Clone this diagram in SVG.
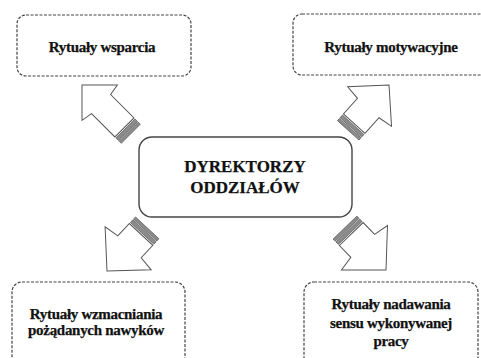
<svg xmlns="http://www.w3.org/2000/svg" width="481" height="358" viewBox="0 0 481 358">
  <style>
    .bg { fill: #ffffff; }
    .ritual { fill: #ffffff; stroke: #444444; stroke-width: 1.2; stroke-dasharray: 3 1.5; }
    .core { fill: #ffffff; stroke: #444444; stroke-width: 1.4; }
    .label { font-family: 'Liberation Serif', 'Times New Roman', serif; font-weight: 700; fill: #111111; stroke: #111111; stroke-width: 0.25; text-anchor: middle; }
    .small { font-size: 15px; letter-spacing: -0.3px; }
    .big { font-size: 17px; }
    .arrow-body { fill: #ffffff; stroke: #555555; stroke-width: 1; stroke-linejoin: miter; }
    .stripe { fill: #8c8c8c; stroke: #5a5a5a; stroke-width: 0.7; }
  </style>

  <rect class="bg" x="0" y="0" width="481" height="358"/>

  <!-- connectors: striped block arrows pointing from the centre to each ritual -->
  <g id="connectors">
    <g id="arrow-tl" transform="translate(82,85) rotate(225)">
      <polygon class="arrow-body" points="0,0 -25,25 -27,13.5 -60,13.5 -60,-13.5 -27,-13.5 -25,-25"/>
      <rect class="stripe" x="-65" y="-13.5" width="3.5" height="27"/>
      <rect class="stripe" x="-69" y="-13.5" width="3" height="27"/>
    </g>
    <g id="arrow-tr" transform="translate(389,85) rotate(-48)">
      <polygon class="arrow-body" points="0,0 -29,29.5 -31,14.5 -52,14.5 -52,-14.5 -31,-14.5 -29,-29.5"/>
      <rect class="stripe" x="-57" y="-14.5" width="3.5" height="29"/>
      <rect class="stripe" x="-61" y="-14.5" width="3" height="29"/>
    </g>
    <g id="arrow-bl" transform="translate(107,271) rotate(133)">
      <polygon class="arrow-body" points="0,0 -31,31.5 -33,16 -50,16 -50,-16 -33,-16 -31,-31.5"/>
      <rect class="stripe" x="-55" y="-16" width="3.5" height="32"/>
      <rect class="stripe" x="-59" y="-16" width="3" height="32"/>
    </g>
    <g id="arrow-br" transform="translate(386,270) rotate(46)">
      <polygon class="arrow-body" points="0,0 -31,32 -33.5,16.5 -50,16.5 -50,-16.5 -33.5,-16.5 -31,-32"/>
      <rect class="stripe" x="-55" y="-16.5" width="3.5" height="33"/>
      <rect class="stripe" x="-59" y="-16.5" width="3" height="33"/>
    </g>
  </g>

  <!-- central node -->
  <g id="node-dyrektorzy">
    <rect class="core" x="139" y="137" width="213" height="80" rx="13" ry="13"/>
    <text class="label big" x="245" y="172">DYREKTORZY</text>
    <text class="label big" x="245" y="193">ODDZIAŁÓW</text>
  </g>

  <!-- ritual nodes -->
  <g id="node-wsparcia">
    <rect class="ritual" x="17" y="15" width="174" height="61" rx="9" ry="9"/>
    <text class="label small" x="102" y="52">Rytuały wsparcia</text>
  </g>

  <g id="node-motywacyjne">
    <rect class="ritual" x="293" y="14" width="200" height="61" rx="9" ry="9"/>
    <text class="label small" x="391" y="52">Rytuały motywacyjne</text>
  </g>

  <g id="node-wzmacniania">
    <rect class="ritual" x="12" y="282" width="173" height="90" rx="10" ry="10"/>
    <text class="label small" x="96" y="319">Rytuały wzmacniania</text>
    <text class="label small" x="96" y="335">pożądanych nawyków</text>
  </g>

  <g id="node-nadawania">
    <rect class="ritual" x="304" y="282" width="174" height="90" rx="10" ry="10"/>
    <text class="label small" x="391" y="309">Rytuały nadawania</text>
    <text class="label small" x="391" y="327.5">sensu wykonywanej</text>
    <text class="label small" x="391" y="346">pracy</text>
  </g>
</svg>
